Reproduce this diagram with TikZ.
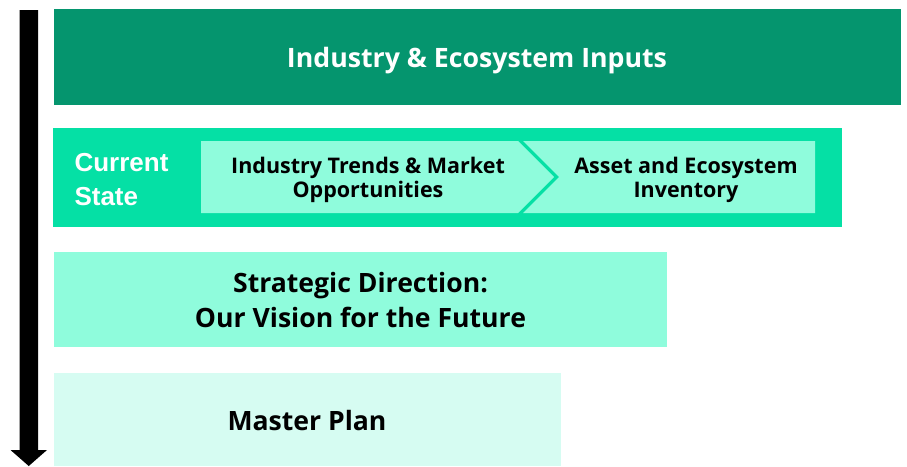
\documentclass[tikz,border=0pt]{standalone}
\usepackage{fontspec}
\setmainfont{Open Sans}
\newfontfamily\arialbold{Liberation Sans}[BoldFont={* Bold}]
\definecolor{topgreen}{HTML}{05956E}
\definecolor{bandgreen}{HTML}{05E0A5}
\definecolor{lightgreen}{HTML}{8FFCDC}
\definecolor{palegreen}{HTML}{D6FCF2}
\begin{document}
\begin{tikzpicture}[x=1pt,y=-1pt,
  ttl/.style={font=\bfseries\fontsize{26.7}{32}\selectfont, align=center},
  chev/.style={font=\bfseries\fontsize{21.5}{24}\selectfont, align=center},
  big/.style={font=\bfseries\fontsize{26.6}{35}\selectfont, align=center}]
\useasboundingbox (0,0) rectangle (907,466);
% arrow
\fill[black] (19.5,10) -- (38,10) -- (38,450) -- (47,450) -- (28.75,466) -- (10.5,450) -- (19.5,450) -- cycle;
% top box
\fill[topgreen] (54,9) rectangle (901,105);
\node[ttl,text=white] (inputs) at (477,60.5) {Industry \& Ecosystem Inputs};
% current state band
\fill[bandgreen] (53,128) rectangle (842,227);
\node[anchor=west,text=white,font=\arialbold\bfseries\fontsize{26}{34}\selectfont,align=left] (cs) at (71,180) {Current\\State};
\fill[lightgreen] (201,141) -- (518,141) -- (554,177) -- (518,213) -- (201,213) -- cycle;
\fill[lightgreen] (523,141) -- (815,141) -- (815,213) -- (523,213) -- (559,177) -- cycle;
\node[chev] (trends) at (368,180) {Industry Trends \& Market\\Opportunities};
\node[chev] (asset) at (686,180) {Asset and Ecosystem\\Inventory};
% strategic
\fill[lightgreen] (54,252) rectangle (667,347);
\node[big] (strat) at (360.5,300) {Strategic Direction:\\Our Vision for the Future};
% master plan
\fill[palegreen] (54,373) rectangle (561,466);
\node[big] (master) at (307,421) {Master Plan};
\end{tikzpicture}
\end{document}
